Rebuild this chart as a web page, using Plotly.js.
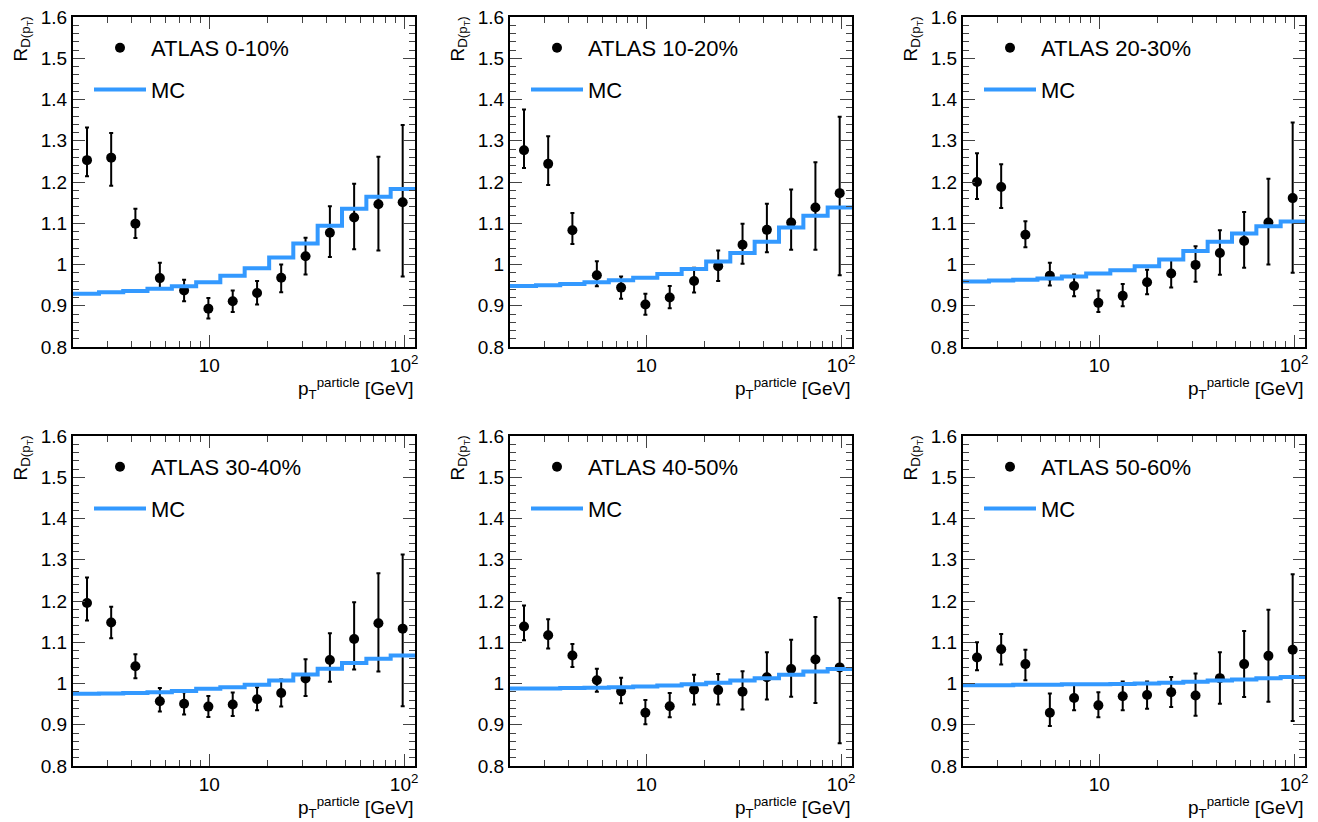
<!DOCTYPE html>
<html><head><meta charset="utf-8">
<script src="https://cdn.plot.ly/plotly-3.0.1.min.js"></script>
<style>html,body{margin:0;padding:0;background:#fff}</style>
</head><body>
<div id="chart" style="width:1318px;height:822px"></div>
<script>
const centralityLabels = ["ATLAS 0-10%","ATLAS 10-20%","ATLAS 20-30%","ATLAS 30-40%","ATLAS 40-50%","ATLAS 50-60%"];
const ptCenters = [2.36,3.14,4.18,5.58,7.43,9.9,13.2,17.6,23.4,31.2,41.6,55.4,73.8,98.3];
const mcBinEdges = [2.0,2.72,3.62,4.82,6.43,8.57,11.4,15.2,20.3,27.0,36.0,48.0,64.0,85.3,113.7];

const data0_10 = [1.253,1.259,1.099,0.967,0.937,0.893,0.911,0.931,0.968,1.020,1.077,1.114,1.146,1.151];
const up0_10   = [1.332,1.319,1.135,1.004,0.963,0.919,0.937,0.960,1.000,1.065,1.141,1.196,1.261,1.338];
const lo0_10   = [1.214,1.191,1.064,0.941,0.911,0.869,0.885,0.903,0.933,0.976,1.018,1.037,1.034,0.971];
const mc0_10   = [0.929,0.933,0.936,0.941,0.947,0.957,0.973,0.991,1.017,1.051,1.094,1.135,1.164,1.183];

const data10_20 = [1.277,1.244,1.083,0.974,0.944,0.903,0.920,0.960,0.996,1.048,1.084,1.102,1.138,1.173];
const up10_20   = [1.376,1.311,1.125,1.008,0.971,0.929,0.948,0.992,1.034,1.099,1.147,1.182,1.248,1.358];
const lo10_20   = [1.234,1.193,1.050,0.947,0.917,0.878,0.894,0.932,0.960,1.002,1.030,1.036,1.036,0.974];
const mc10_20   = [0.948,0.950,0.953,0.957,0.962,0.968,0.977,0.989,1.007,1.028,1.055,1.090,1.118,1.138];

const data20_30 = [1.200,1.188,1.072,0.973,0.948,0.907,0.924,0.957,0.978,0.999,1.028,1.057,1.102,1.161];
const up20_30   = [1.270,1.243,1.105,1.004,0.976,0.937,0.953,0.987,1.013,1.044,1.083,1.127,1.208,1.344];
const lo20_30   = [1.159,1.137,1.042,0.949,0.923,0.885,0.899,0.928,0.944,0.958,0.975,0.992,1.000,0.980];
const mc20_30   = [0.959,0.961,0.963,0.966,0.971,0.978,0.986,0.996,1.012,1.033,1.055,1.075,1.093,1.104];

const data30_40 = [1.195,1.148,1.042,0.957,0.951,0.944,0.949,0.962,0.977,1.012,1.057,1.108,1.146,1.133];
const up30_40   = [1.257,1.186,1.071,0.989,0.979,0.970,0.978,0.991,1.010,1.059,1.122,1.197,1.267,1.313];
const lo30_40   = [1.153,1.110,1.013,0.932,0.925,0.919,0.921,0.935,0.944,0.970,1.004,1.034,1.029,0.945];
const mc30_40   = [0.975,0.976,0.977,0.979,0.982,0.987,0.991,0.997,1.007,1.022,1.036,1.050,1.060,1.068];

const data40_50 = [1.138,1.117,1.068,1.008,0.981,0.929,0.945,0.985,0.984,0.980,1.015,1.035,1.058,1.039];
const up40_50   = [1.189,1.156,1.096,1.036,1.014,0.960,0.977,1.021,1.023,1.030,1.076,1.106,1.161,1.207];
const lo40_50   = [1.105,1.085,1.040,0.980,0.952,0.901,0.918,0.949,0.949,0.937,0.961,0.968,0.953,0.855];
const mc40_50   = [0.988,0.988,0.989,0.990,0.991,0.993,0.995,0.998,1.002,1.007,1.013,1.021,1.029,1.035];

const data50_60 = [1.063,1.083,1.047,0.929,0.965,0.947,0.969,0.972,0.979,0.971,1.013,1.047,1.067,1.082];
const up50_60   = [1.100,1.120,1.082,0.976,0.998,0.979,1.005,1.005,1.016,1.024,1.076,1.127,1.179,1.265];
const lo50_60   = [1.032,1.046,1.008,0.897,0.935,0.918,0.935,0.939,0.943,0.922,0.951,0.967,0.956,0.909];
const mc50_60   = [0.996,0.996,0.997,0.997,0.998,0.998,0.999,1.000,1.002,1.004,1.007,1.010,1.013,1.016];

const panels = [
  [data0_10,up0_10,lo0_10,mc0_10],[data10_20,up10_20,lo10_20,mc10_20],[data20_30,up20_30,lo20_30,mc20_30],
  [data30_40,up30_40,lo30_40,mc30_40],[data40_50,up40_50,lo40_50,mc40_50],[data50_60,up50_60,lo50_60,mc50_60]
];

const W=1318,H=822;
const colPx=[[73,415],[510,852],[963,1305]];
const rowPx=[[17,347],[436,766]];
const FONT="Liberation Sans, Arial, sans-serif";
const minorVals=[2,3,4,5,6,7,8,9,20,30,40,50,60,70,80,90];

const traces=[], layout={
  width:W,height:H,margin:{l:0,r:0,t:0,b:0},paper_bgcolor:'#fff',plot_bgcolor:'#fff',
  font:{family:FONT,size:19,color:'#000'},annotations:[],showlegend:true
};
panels.forEach((p,i)=>{
  const c=i%3, r=Math.floor(i/3), n=i+1;
  const xa='x'+(n===1?'':n), ya='y'+(n===1?'':n);
  const lg='legend'+(n===1?'':n);
  const [d,u,l,mc]=p;
  traces.push({type:'scatter',mode:'markers',x:ptCenters,y:d,xaxis:xa,yaxis:ya,legend:lg,
    name:centralityLabels[i],legendgroup:'a',
    marker:{color:'#000',size:10},
    error_y:{type:'data',symmetric:false,array:u.map((v,k)=>v-d[k]),arrayminus:d.map((v,k)=>v-l[k]),
      color:'#000',thickness:2,width:2}});
  traces.push({type:'scatter',mode:'lines',x:mcBinEdges,y:mc.concat([mc[mc.length-1]]),xaxis:xa,yaxis:ya,legend:lg,
    name:'MC',legendgroup:'b',line:{color:'#3399ff',width:4,shape:'hv'}});
  const xd=[colPx[c][0]/W,colPx[c][1]/W], yd=[1-rowPx[r][1]/H,1-rowPx[r][0]/H];
  const axn=(n===1?'':n);
  layout['xaxis'+axn]={domain:xd,anchor:ya,type:'log',range:[Math.log10(2),Math.log10(113.7)],
    tickvals:[10,100],ticktext:['10','10<sup>2</sup>'],ticks:'inside',ticklen:12,tickwidth:1,
    minor:{tickvals:minorVals,ticks:'inside',ticklen:6,tickwidth:1},
    showline:true,linewidth:2,linecolor:'#000',mirror:'allticks',showgrid:false,zeroline:false,
    tickfont:{size:19}};
  layout['yaxis'+axn]={domain:yd,anchor:xa,range:[0.8,1.6],dtick:0.1,tick0:0.8,ticks:'inside',ticklen:12,
    minor:{dtick:0.02,ticks:'inside',ticklen:6},
    showline:true,linewidth:2,linecolor:'#000',mirror:'allticks',showgrid:false,zeroline:false,
    tickfont:{size:19}};
  layout[lg]={x:(colPx[c][0]+16)/W,y:1-(rowPx[r][0]+10)/H,xanchor:'left',yanchor:'top',
    bgcolor:'rgba(0,0,0,0)',font:{size:22},traceorder:'grouped',tracegroupgap:10,itemwidth:52};
  layout.annotations.push({xref:'paper',yref:'paper',x:(colPx[c][0]-66)/W,y:1-(rowPx[r][0]-2)/H,
    xanchor:'left',yanchor:'top',textangle:-90,showarrow:false,
    text:'R<sub>D(p<sub>T</sub>)</sub>',font:{size:19}});
  layout.annotations.push({xref:'paper',yref:'paper',x:colPx[c][1]/W,y:1-(rowPx[r][1]+26)/H,
    xanchor:'right',yanchor:'top',showarrow:false,
    text:'p<sub>T</sub><sup>particle</sup> [GeV]',font:{size:19}});
});
Plotly.newPlot('chart',traces,layout,{staticPlot:true});
</script>
</body></html>
